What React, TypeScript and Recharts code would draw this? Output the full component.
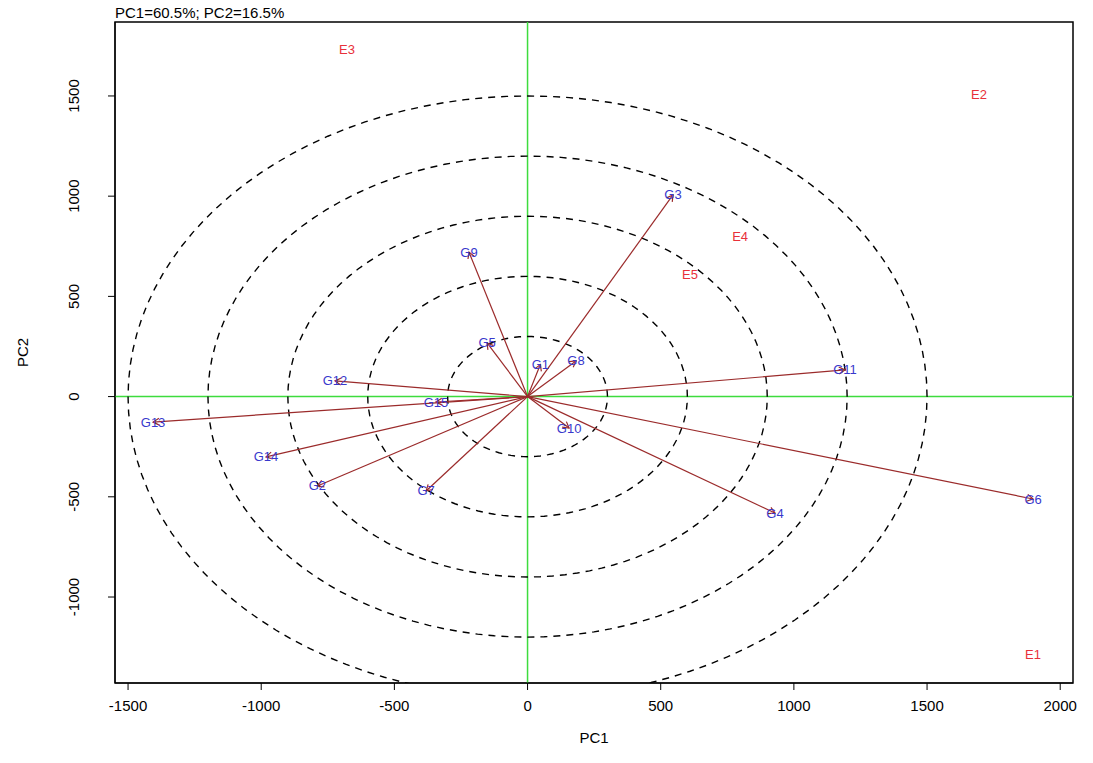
import { ReferenceArea, ReferenceLine, Scatter, ScatterChart, XAxis, YAxis } from "recharts";

const genotypes = ["G1", "G2", "G3", "G4", "G5", "G6", "G7", "G8", "G9", "G10", "G11", "G12", "G13", "G14", "G15"];
const genoPC1 = [48, -789, 546, 929, -152, 1898, -381, 182, -220, 156, 1192, -723, -1406, -982, -344];
const genoPC2 = [160, -446, 1006, -581, 268, -511, -471, 178, 721, -157, 133, 78, -127, -301, -27];

const environments = ["E1", "E2", "E3", "E4", "E5"];
const envPC1 = [1898, 1695, -678, 798, 610];
const envPC2 = [-1289, 1509, 1730, 801, 607];

const circleRadii = [300, 600, 900, 1200, 1500];
const xTicks = [-1500, -1000, -500, 0, 500, 1000, 1500, 2000];
const yTicks = [-1000, -500, 0, 500, 1000, 1500];

const X_MIN = -1549;
const X_MAX = 2048;
const Y_MIN = -1429;
const Y_MAX = 1869;

const FONT = "'Liberation Sans', Arial, sans-serif";
const ARROW = "#9b2b2b";
const GREEN = "#3ddc3d";

const genoData = genotypes.map((name, i) => ({ x: genoPC1[i], y: genoPC2[i], name }));
const envData = environments.map((name, i) => ({ x: envPC1[i], y: envPC2[i], name }));

// circle outline for a given radius, in data units
const circlePath = (r: number) => {
  const pts = [];
  for (let a = 0; a <= 360; a += 3) {
    const t = (a * Math.PI) / 180;
    pts.push({ x: r * Math.cos(t), y: r * Math.sin(t) });
  }
  return pts;
};

const Empty = () => <g />;

const renderArrow = (props: any) => {
  const pts = props.points || [];
  if (pts.length < 2) return <g />;
  const a = pts[0];
  const b = pts[pts.length - 1];
  const ang = Math.atan2(b.y - a.y, b.x - a.x);
  const len = 7;
  const spread = Math.PI / 6;
  const l1 = { x: b.x - len * Math.cos(ang - spread), y: b.y - len * Math.sin(ang - spread) };
  const l2 = { x: b.x - len * Math.cos(ang + spread), y: b.y - len * Math.sin(ang + spread) };
  return (
    <g stroke={ARROW} strokeWidth={1.2} fill="none">
      <line x1={a.x} y1={a.y} x2={b.x} y2={b.y} />
      <polyline points={`${l1.x},${l1.y} ${b.x},${b.y} ${l2.x},${l2.y}`} />
    </g>
  );
};

const labelShape = (color: string) => (p: any) => (
  <text
    x={p.cx}
    y={p.cy}
    textAnchor="middle"
    dominantBaseline="central"
    fontSize={13}
    fontFamily={FONT}
    fill={color}
  >
    {p.payload.name}
  </text>
);

const YTick = (props: any) => {
  const { y, payload } = props;
  const cx = 74;
  return (
    <text
      x={cx}
      y={y}
      transform={`rotate(-90 ${cx} ${y})`}
      textAnchor="middle"
      dominantBaseline="central"
      fontSize={15}
      fontFamily={FONT}
      fill="#000"
    >
      {payload.value}
    </text>
  );
};

export default function App() {
  return (
    <div style={{ position: "absolute", left: 0, top: 0, width: 1093, height: 763, background: "#fff" }}>
      <div
        style={{
          position: "absolute",
          left: 115,
          top: 5,
          fontFamily: FONT,
          fontSize: 15,
          lineHeight: "15px",
          color: "#000",
        }}
      >
        PC1=60.5%; PC2=16.5%
      </div>
      <ScatterChart width={1093} height={763} margin={{ top: 22, right: 20, bottom: 0, left: 0 }}>
        <XAxis
          type="number"
          dataKey="x"
          domain={[X_MIN, X_MAX]}
          allowDataOverflow
          ticks={xTicks}
          interval={0}
          height={80}
          tickSize={7}
          tickMargin={10}
          stroke="#000"
          tick={{ fontSize: 15, fontFamily: FONT, fill: "#000" }}
          label={{
            content: ({ viewBox }: any) => (
              <text
                x={viewBox.x + viewBox.width / 2}
                y={viewBox.y + 60}
                textAnchor="middle"
                fontSize={15}
                fontFamily={FONT}
                fill="#000"
              >
                PC1
              </text>
            ),
          }}
        />
        <YAxis
          type="number"
          dataKey="y"
          domain={[Y_MIN, Y_MAX]}
          allowDataOverflow
          ticks={yTicks}
          interval={0}
          width={115}
          tickSize={7}
          stroke="#000"
          tick={<YTick />}
          label={{
            content: ({ viewBox }: any) => {
              const cx = viewBox.x + 22;
              const cy = viewBox.y + viewBox.height / 2;
              return (
                <text
                  x={cx}
                  y={cy}
                  transform={`rotate(-90 ${cx} ${cy})`}
                  textAnchor="middle"
                  dominantBaseline="central"
                  fontSize={15}
                  fontFamily={FONT}
                  fill="#000"
                >
                  PC2
                </text>
              );
            },
          }}
        />
        <ReferenceLine x={0} stroke={GREEN} strokeWidth={1.5} />
        <ReferenceLine y={0} stroke={GREEN} strokeWidth={1.5} />

        {circleRadii.map((r) => (
          <Scatter
            key={`c${r}`}
            data={circlePath(r)}
            line={{ stroke: "#000", strokeWidth: 1.4, strokeDasharray: "7 6" }}
            lineType="joint"
            shape={<Empty />}
            isAnimationActive={false}
          />
        ))}

        {genoData.map((g) => (
          <Scatter
            key={`a${g.name}`}
            data={[{ x: 0, y: 0 }, { x: g.x, y: g.y }]}
            line={renderArrow}
            lineType="joint"
            shape={<Empty />}
            isAnimationActive={false}
          />
        ))}

        <Scatter data={genoData} shape={labelShape("#3838cc")} isAnimationActive={false} />
        <Scatter data={envData} shape={labelShape("#e8303a")} isAnimationActive={false} />

        <ReferenceArea
          x1={X_MIN}
          x2={X_MAX}
          y1={Y_MIN}
          y2={Y_MAX}
          fill="none"
          fillOpacity={0}
          stroke="#000"
          strokeWidth={1.5}
        />
      </ScatterChart>
    </div>
  );
}
